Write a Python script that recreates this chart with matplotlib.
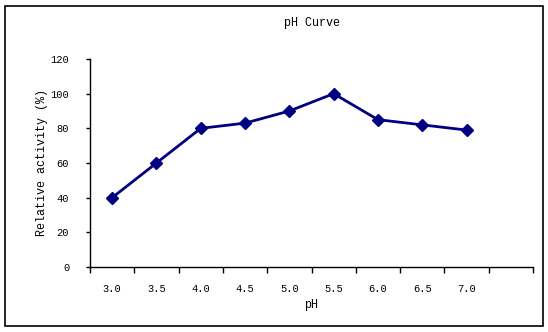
import matplotlib
matplotlib.use("Agg")
import matplotlib.pyplot as plt
from matplotlib.patches import Rectangle

# data
ph_labels = ["3.0", "3.5", "4.0", "4.5", "5.0", "5.5", "6.0", "6.5", "7.0"]
activity = [40, 60, 80, 83, 90, 100, 85, 82, 79]

plt.rcParams['font.family'] = ['Liberation Mono', 'DejaVu Sans Mono']
plt.rcParams['font.size'] = 7.5

fig = plt.figure(figsize=(5.48, 3.32), dpi=100)
ax = fig.add_axes([90 / 548, 65 / 332, 443 / 548, 208 / 332])

x = list(range(len(ph_labels)))
ax.plot(x, activity, color='#000080', lw=2.0, marker='D', ms=6,
        markerfacecolor='#000080', markeredgecolor='#000080')

# category axis with 10 slots, ticks on slot boundaries
ax.set_xlim(-0.5, 9.5)
ax.set_xticks([i - 0.5 for i in range(11)])
ax.set_xticklabels([])
ax.set_xticks(x, minor=True)
ax.set_xticklabels(ph_labels, minor=True)
ax.tick_params(axis='x', which='major', direction='out', length=4, width=1)
ax.tick_params(axis='x', which='minor', length=0, pad=12)

ax.set_ylim(0, 120)
ax.set_yticks(range(0, 121, 20))
ax.tick_params(axis='y', direction='out', length=3, width=1, pad=12)

for s in ['top', 'right']:
    ax.spines[s].set_visible(False)
for s in ['left', 'bottom']:
    ax.spines[s].set_linewidth(1)

ax.set_xlabel('pH', fontsize=8.5, labelpad=4)
ax.set_ylabel('Relative activity (%)', fontsize=8.5, labelpad=2)
fig.text(312 / 548, 1 - 23 / 332, 'pH Curve', ha='center', va='center', fontsize=8.5)

# outer chart border
fig.patches.append(Rectangle((5 / 548, 6 / 332), 538 / 548, 320 / 332,
                             transform=fig.transFigure, fill=False,
                             edgecolor='black', lw=1.2))

fig.savefig('out.png', dpi=100)
